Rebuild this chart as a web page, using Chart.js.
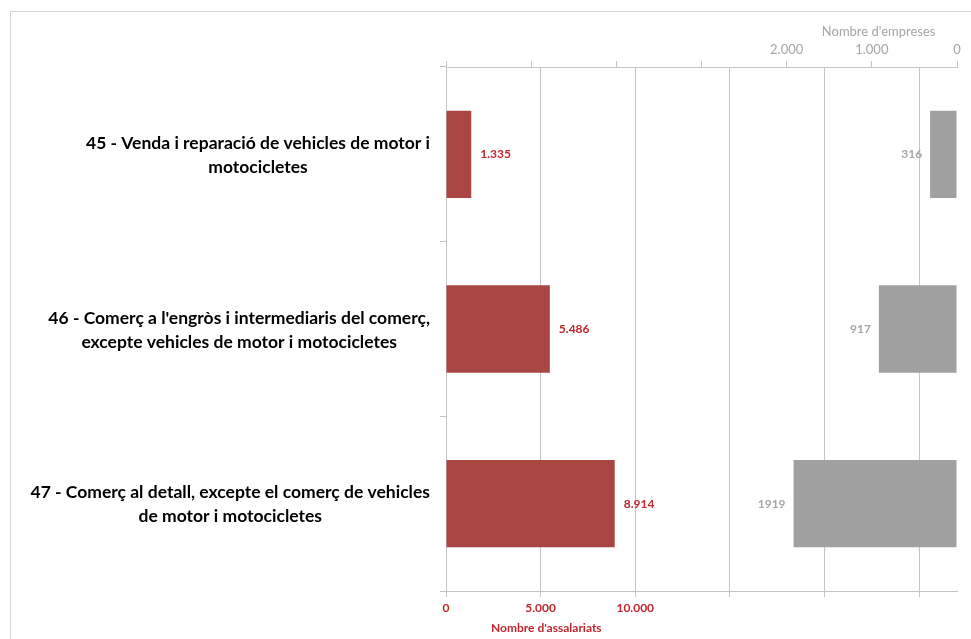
<!DOCTYPE html>
<html>
<head>
<meta charset="utf-8">
<script src="https://cdn.jsdelivr.net/npm/chart.js@4.4.0/dist/chart.umd.min.js"></script>
<style>
  html, body { margin: 0; padding: 0; background: #fff; }
</style>
</head>
<body>
<canvas id="chart" width="971" height="639"></canvas>
<script>
var categories = [
    ['45 - Venda i reparació de vehicles de motor i', 'motocicletes'],
    ['46 - Comerç a l\'engròs i intermediaris del comerç,', 'excepte vehicles de motor i motocicletes'],
    ['47 - Comerç al detall, excepte el comerç de vehicles', 'de motor i motocicletes']
];
var assalariats = [1335, 5486, 8914];
var empreses = [316, 917, 1919];
var assalariatsGrid = [0, 5000, 10000, 15000, 20000, 25000];
var assalariatsTicks = [0, 5000, 10000];
var empresesTicks = [0, 1000, 2000];

var red = '#a94543';
var redText = '#c0272d';
var grey = '#a0a0a0';
var greyText = '#a6a6a6';
var lineGrey = '#c4c4c4';
var font = 'Lato';

function fmt(v) {
    return String(v).replace(/\B(?=(\d{3})+(?!\d))/g, '.');
}

var labelsPlugin = {
    id: 'labelsPlugin',
    beforeDraw: function(chart) {
        var ctx = chart.ctx;
        ctx.save();
        ctx.fillStyle = '#fff';
        ctx.fillRect(0, 0, chart.width, chart.height);
        ctx.strokeStyle = '#d4d4d4';
        ctx.lineWidth = 1;
        ctx.beginPath();
        ctx.moveTo(10.5, chart.height);
        ctx.lineTo(10.5, 11.5);
        ctx.lineTo(chart.width, 11.5);
        ctx.stroke();
        ctx.restore();
    },
    afterDatasetsDraw: function(chart) {
        var ctx = chart.ctx;
        var yScale = chart.scales.y;
        var area = chart.chartArea;
        ctx.save();

        // category labels, each block right aligned, lines centred
        ctx.font = 'bold 17.5px ' + font;
        ctx.fillStyle = '#000';
        ctx.textAlign = 'center';
        ctx.textBaseline = 'middle';
        categories.forEach(function(lines, i) {
            var w = Math.max.apply(null, lines.map(function(l) { return ctx.measureText(l).width; }));
            var cx = area.left - 16 - w / 2;
            var cy = yScale.getPixelForValue(i) + 1;
            lines.forEach(function(l, j) {
                ctx.fillText(l, cx, cy + (j - (lines.length - 1) / 2) * 24);
            });
        });

        // value labels
        ctx.font = 'bold 12px ' + font;
        ctx.textAlign = 'left';
        ctx.fillStyle = redText;
        chart.getDatasetMeta(0).data.forEach(function(bar, i) {
            ctx.fillText(fmt(assalariats[i]), bar.x + 9, bar.y);
        });
        ctx.textAlign = 'right';
        ctx.fillStyle = greyText;
        chart.getDatasetMeta(1).data.forEach(function(bar, i) {
            ctx.fillText(String(empreses[i]), bar.x - 8, bar.y);
        });

        // axis titles
        ctx.textAlign = 'center';
        ctx.fillStyle = redText;
        ctx.fillText("Nombre d'assalariats", chart.scales.x.getPixelForValue(5300), 628);
        ctx.font = '13px ' + font;
        ctx.fillStyle = greyText;
        ctx.fillText("Nombre d'empreses", chart.scales.x2.getPixelForValue(920), 32);
        ctx.restore();
    }
};

new Chart(document.getElementById('chart'), {
    type: 'bar',
    data: {
        labels: categories,
        datasets: [{
            data: assalariats,
            xAxisID: 'x',
            backgroundColor: red,
            grouped: false,
            barPercentage: 0.5,
            categoryPercentage: 1
        }, {
            data: empreses,
            xAxisID: 'x2',
            backgroundColor: grey,
            grouped: false,
            barPercentage: 0.5,
            categoryPercentage: 1
        }]
    },
    options: {
        indexAxis: 'y',
        responsive: false,
        animation: false,
        layout: { padding: { top: 0, right: 14, bottom: 0, left: 0 } },
        plugins: {
            legend: { display: false },
            tooltip: { enabled: false }
        },
        scales: {
            y: {
                position: 'left',
                grid: { offset: true, drawOnChartArea: false, tickLength: 6, color: lineGrey },
                border: { color: lineGrey },
                ticks: { display: false },
                afterFit: function(s) { s.width = 446; }
            },
            x: {
                position: 'bottom',
                min: 0,
                max: 27000,
                grid: { color: lineGrey, tickLength: 6 },
                border: { color: lineGrey },
                ticks: {
                    maxRotation: 0,
                    autoSkip: false,
                    padding: 4,
                    color: redText,
                    font: { family: font, size: 12, weight: 'bold' },
                    callback: function(v) { return assalariatsTicks.indexOf(v) >= 0 ? fmt(v) : ''; }
                },
                afterBuildTicks: function(s) {
                    s.ticks = assalariatsGrid.map(function(v) { return { value: v }; });
                },
                afterFit: function(s) { s.height = 48; }
            },
            x2: {
                position: 'top',
                reverse: true,
                min: 0,
                max: 6000,
                grid: { drawOnChartArea: false, tickLength: 6, color: lineGrey },
                border: { color: lineGrey },
                ticks: {
                    stepSize: 1000,
                    maxRotation: 0,
                    padding: 3,
                    color: greyText,
                    font: { family: font, size: 13 },
                    callback: function(v) { return empresesTicks.indexOf(v) >= 0 ? fmt(v) : ''; }
                },
                afterFit: function(s) { s.height = 67; }
            }
        }
    },
    plugins: [labelsPlugin]
});
</script>
</body>
</html>
